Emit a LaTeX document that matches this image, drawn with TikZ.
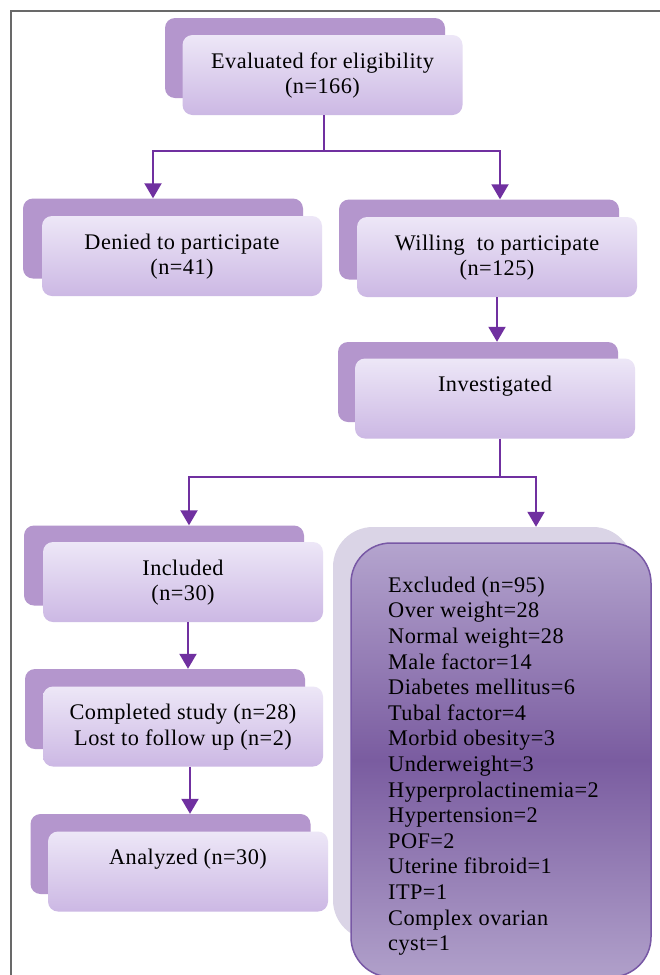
\documentclass[tikz,border=0pt]{standalone}
\usepackage{fontspec}
\setmainfont{Liberation Serif}[LetterSpace=2]
\usetikzlibrary{arrows.meta}
\definecolor{tabc}{RGB}{180,150,205}
\definecolor{frtop}{RGB}{237,231,247}
\definecolor{frbot}{RGB}{204,184,228}
\definecolor{arrc}{RGB}{112,48,160}
\definecolor{shadc}{RGB}{218,212,230}
\definecolor{extop}{RGB}{180,164,206}
\definecolor{exmid}{RGB}{122,92,160}
\definecolor{exbot}{RGB}{176,160,202}
\definecolor{exborder}{RGB}{120,88,165}
\definecolor{framec}{RGB}{105,105,105}
\newcommand\topstrut{\rule{0pt}{20pt}}
\newcommand\botstrut{\rule[-7.7pt]{0pt}{7.7pt}}
\newcommand\txtfont{\fontsize{22.3}{25.6}\selectfont}
\begin{document}
\begin{tikzpicture}[x=1pt,y=-1pt,
  tab/.style={fill=tabc, rounded corners=10pt, minimum width=280pt, minimum height=80pt, inner sep=0pt},
  front/.style={top color=frtop, bottom color=frbot, rounded corners=10pt, minimum width=280pt, minimum height=80pt, inner sep=0pt, align=center, font=\txtfont},
  conn/.style={draw=arrc, line width=2pt},
  arr/.style={conn, -{Triangle[width=17pt,length=15pt]}},
  framel/.style={draw=framec, line width=1.5pt}
]
\useasboundingbox (0,0) rectangle (660,975);
\clip (0,0) rectangle (660,975);
\fill[white] (0,0) rectangle (660,975);
\draw[framel] (662,11) -- (11,11) -- (11,977);

% Evaluated
\node[tab] (evalB) at (305,58) {};
\node[front] (eval) at (322.5,75) {\topstrut Evaluated for eligibility\\(n=166)\botstrut};
% Denied
\node[tab] (deniedB) at (163,238.5) {};
\node[front] (denied) at (182,256) {\topstrut Denied to participate\\(n=41)\botstrut};
% Willing
\node[tab] (willingB) at (479,239.5) {};
\node[front] (willing) at (497,257) {\topstrut Willing~ to participate\\(n=125)\botstrut};
% Investigated
\node[tab] (invB) at (478,382) {};
\node[front] (inv) at (495,398.5) {\topstrut Investigated\\\botstrut};
% Included
\node[tab] (inclB) at (164,565.5) {};
\node[front] (incl) at (183,582) {\topstrut Included\\(n=30)\botstrut};
% Completed
\node[tab] (complB) at (165,709) {};
\node[front] (compl) at (183,726.5) {\topstrut Completed study (n=28)\\Lost to follow up (n=2)\botstrut};
% Analyzed
\node[tab] (analB) at (170.5,854) {};
\node[front] (anal) at (188,871.5) {\topstrut Analyzed (n=30)\\\botstrut};

% Excluded
\node[fill=shadc, rounded corners=40pt, minimum width=300pt, minimum height=413pt, inner sep=0pt] (exclB) at (483,733.5) {};
\node[draw=exborder, line width=1.5pt, top color=extop, bottom color=exbot, middle color=exmid, rounded corners=40pt, minimum width=300pt, minimum height=434pt, inner sep=0pt] (excl) at (501,760) {};
\node[anchor=north west, align=left, inner sep=0pt, font=\txtfont] (excltxt) at (388,572) {\topstrut Excluded (n=95)\\Over weight=28\\Normal weight=28\\Male factor=14\\Diabetes mellitus=6\\Tubal factor=4\\Morbid obesity=3\\Underweight=3\\Hyperprolactinemia=2\\Hypertension=2\\POF=2\\Uterine fibroid=1\\ITP=1\\Complex ovarian\\cyst=1};

% connectors
\coordinate (j1) at (324,151);
\draw[conn] (eval.south -| j1) -- (j1);
\draw[arr] (j1) -| ([xshift=-10pt]deniedB.north);
\draw[arr] (j1) -| ([xshift=21pt]willingB.north);
\draw[arr] (willing.south) -- (willing.south |- invB.north);
\coordinate (j2) at (500,477);
\draw[conn] (inv.south -| j2) -- (j2);
\draw[arr] (j2) -| ([xshift=25pt]inclB.north);
\draw[arr] (j2) -| ([xshift=53pt]exclB.north);
\draw[arr] ([xshift=5pt]incl.south) -- ([xshift=5pt]incl.south |- complB.north);
\draw[arr] ([xshift=7pt]compl.south) -- ([xshift=7pt]compl.south |- analB.north);
\end{tikzpicture}
\end{document}
